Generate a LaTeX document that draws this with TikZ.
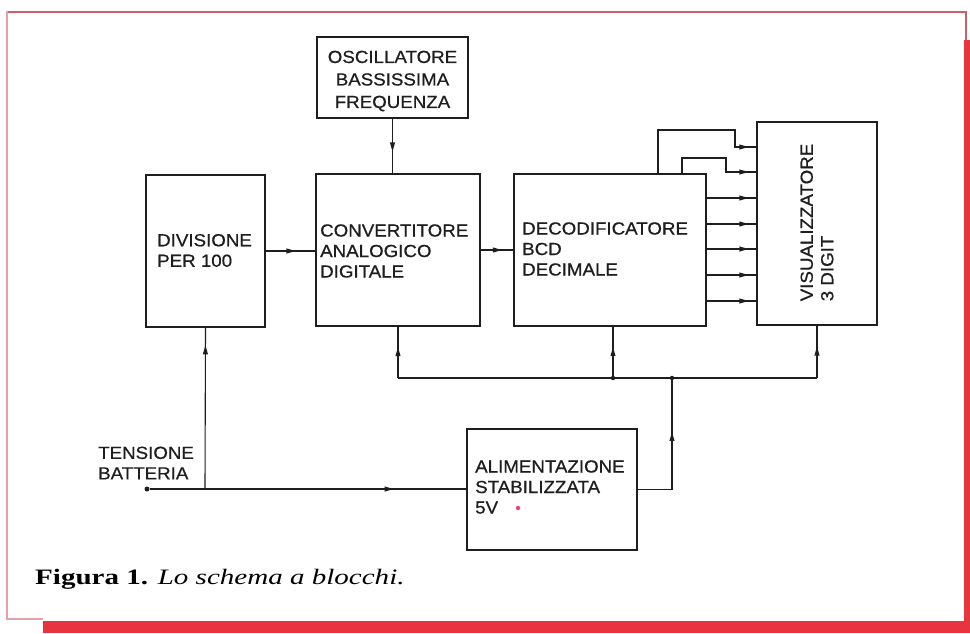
\documentclass[tikz,border=0pt]{standalone}
\usepackage{fontspec}
\setmainfont{Liberation Serif}
\newfontfamily\labfont[FakeStretch=1.07,FakeBold=0.6]{Liberation Sans}
\newfontfamily\capfont[FakeStretch=1.32]{Liberation Serif}
\usetikzlibrary{arrows.meta,decorations.markings}
\definecolor{ink}{RGB}{30,30,30}
\definecolor{framered}{RGB}{232,52,62}
\definecolor{topred}{RGB}{205,95,105}
\definecolor{palered}{RGB}{232,160,168}
\definecolor{dotred}{RGB}{235,70,110}
\tikzset{
  blk/.style={draw=ink,line width=1.2pt,inner sep=0pt,fill=white},
  lbl/.style={font=\labfont\fontsize{17.5}{20.5}\selectfont,text=ink,inner sep=0pt,align=left},
  wire/.style={draw=ink,line width=1.1pt},
  midarr/.style={postaction={decorate},decoration={markings,mark=at position #1 with {\fill[ink] (0pt,0pt) -- (-9pt,2.6pt) -- (-9pt,-2.6pt) -- cycle;}}},
  jdot/.style={circle,fill=ink,inner sep=0pt,minimum size=4.5pt},
}
\begin{document}
\begin{tikzpicture}[x=1pt,y=-1pt]
\useasboundingbox (0,0) rectangle (970,633);
% frame
\fill[white] (7,11) rectangle (965,620);
\fill[framered] (43,621) rectangle (970,633);
\fill[framered] (964,40) rectangle (970,633);
\draw[topred,line width=2pt] (7,11.5) -- (966,11.5) -- (966,40);
\draw[palered,line width=1.6pt] (7,11) -- (7,619) -- (43,619);

% blocks
\node[blk,minimum width=151pt,minimum height=81pt] (osc) at (392.5,77.5) {};
\node[blk,minimum width=119pt,minimum height=152pt] (div) at (205.5,251) {};
\node[blk,minimum width=164pt,minimum height=152pt] (conv) at (398,250) {};
\node[blk,minimum width=192pt,minimum height=152pt] (dec) at (610,250) {};
\node[blk,minimum width=120pt,minimum height=203pt] (vis) at (817,223.5) {};
\node[blk,minimum width=170pt,minimum height=121pt] (alim) at (552,489.5) {};

% labels
\node[lbl,align=center,font=\labfont\fontsize{17.5}{22.5}\selectfont] (osct) at (392.5,81) {OSCILLATORE\\BASSISSIMA\\FREQUENZA};
\node[lbl,anchor=west] (divt) at (157,250.5) {DIVISIONE\\PER 100};
\node[lbl,anchor=west] (convt) at (320,251) {CONVERTITORE\\ANALOGICO\\DIGITALE};
\node[lbl,anchor=west] (dect) at (522,249) {DECODIFICATORE\\BCD\\DECIMALE};
\node[lbl,rotate=90] (vist) at (817,222.5) {VISUALIZZATORE\\3 DIGIT};
\node[lbl,anchor=west] (alimt) at (475,487) {ALIMENTAZIONE\\STABILIZZATA\\5V};
\fill[dotred] (518,508) circle (2.2pt);
\node[lbl,anchor=west] (tenst) at (98,463) {TENSIONE\\BATTERIA};

% signal path
\draw[wire,midarr=0.6] (osc.south) -- (osc.south |- conv.north);
\draw[wire,midarr=0.6] (div.east) -- (div.east -| conv.west);
\draw[wire,midarr=0.65] (conv.east) -- (dec.west);
\foreach \yy in {198,224,249,275,301}
  \draw[wire,midarr=-8pt] (dec.east |- 0,\yy) -- (vis.west |- 0,\yy);
\draw[wire,midarr=-8pt] ([xshift=48pt]dec.north) |- (735,130) |- (vis.west |- 0,147);
\draw[wire,midarr=-8pt] ([xshift=72pt]dec.north) |- (726,158) |- (vis.west |- 0,172);

% supply bus
\coordinate (bus) at (0,378);
\draw[wire] (conv.south |- bus) -- (vis.south |- bus);
\draw[wire,midarr=0.6] (conv.south |- bus) -- (conv.south);
\draw[wire,midarr=0.6] ([xshift=3pt]dec.south |- bus) -- ([xshift=3pt]dec.south);
\draw[wire,midarr=0.6] (vis.south |- bus) -- (vis.south);
\coordinate (riser) at (672,378);
\draw[wire,midarr=0.63] (alim.east) -| (riser);
\node[jdot] (j1) at ([xshift=3pt]dec.south |- bus) {};
\node[jdot] (j2) at (riser) {};

% battery input
\node[jdot,minimum size=5pt] (bat) at (147,489) {};
\coordinate (tap) at (205,489);
\draw[wire,midarr=0.77] (bat) -- (alim.west |- bat);
\draw[wire,midarr=0.89] (tap) -- (div.south);

% caption
\node[anchor=west,inner sep=0pt,font=\capfont\fontsize{22}{26}\selectfont] (cap) at (35,579) {\textbf{Figura 1.} \textit{Lo schema a blocchi.}};
\end{tikzpicture}
\end{document}
